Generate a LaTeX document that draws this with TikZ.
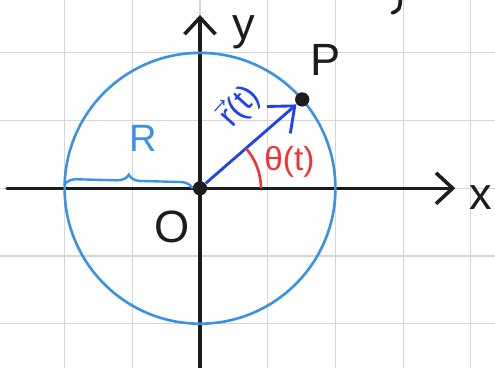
\documentclass[tikz,border=0pt]{standalone}
\usepackage{amsmath}
\usepackage{fontspec}
\setmainfont{Liberation Sans}
\usepackage{tikz}
\usetikzlibrary{arrows.meta, positioning, decorations.pathreplacing}
\definecolor{cgrid}{HTML}{D6D6D6}
\definecolor{ccircle}{HTML}{3A92E6}
\definecolor{cvec}{HTML}{1E42F2}
\definecolor{cangle}{HTML}{F03434}
\definecolor{cink}{HTML}{1C1C1C}
\tikzset{
  gridline/.style={draw=cgrid, line width=0.5pt},
  axisline/.style={draw=cink, line width=1.5pt, line cap=round,
                   -{Straight Barb[length=7pt, width=13pt, line width=1.5pt]}},
  circleline/.style={draw=ccircle, line width=1.1pt},
  vecline/.style={draw=cvec, line width=1.2pt,
                  -{Straight Barb[length=9pt, width=15pt, line width=1.2pt]}},
  dotnode/.style={circle, fill=cink, inner sep=0pt, minimum size=6pt},
  biglabel/.style={text=cink, font=\fontsize{19}{22}\selectfont},
  anglabel/.style={text=cangle, font=\fontsize{14}{16}\selectfont},
  veclabel/.style={text=cvec, font=\fontsize{14}{16}\selectfont},
  radlabel/.style={text=ccircle, font=\fontsize{16}{18}\selectfont},
}
\begin{document}
\begin{tikzpicture}
  \useasboundingbox (-2.954,-2.654) rectangle (4.357,2.781);
  \fill[white] (-2.954,-2.654) rectangle (4.357,2.781);
  \draw[gridline] (-2.954,-2.654) grid (4.357,2.781);

  \coordinate (xstart) at (-2.85,0);
  \coordinate (xend) at (3.77,0);
  \coordinate (ystart) at (0,-2.7);
  \coordinate (yend) at (0,2.56);
  \draw[axisline] (xstart) -- (xend);
  \draw[axisline] (ystart) -- (yend);

  \node[dotnode] (O) at (0,0) {};
  \draw[circleline] (O) circle (2);

  % radius mark
  \draw[ccircle, line width=1pt, decorate,
        decoration={brace, amplitude=5pt}] (-2,0.05) -- (O.west);
  \node[radlabel] (R) at (-0.84,0.74) {R};

  \node[dotnode] (P) at (41:2) {};
  \draw[vecline] (O) -- (P);
  \draw[cangle, line width=1.1pt] (0.9,0) arc (0:41:0.9);

  \node[biglabel] (ylab) at (0.64,2.31) {y};
  \node[biglabel] (xlab) at (4.14,-0.13) {x};
  \node[biglabel] (Plab) at (1.85,1.89) {P};
  \node[biglabel] (Olab) at (-0.41,-0.57) {O};
  \node[anglabel] (theta) at (1.32,0.39) {θ(t)};
  \node[veclabel, rotate=48] (rvec) at (0.58,1.22) {$\vec{\text{r}}$(t)};

  \draw[cink, line width=1.5pt, line cap=round] (2.96,2.8) .. controls (2.95,2.64) .. (2.84,2.59);
\end{tikzpicture}
\end{document}
